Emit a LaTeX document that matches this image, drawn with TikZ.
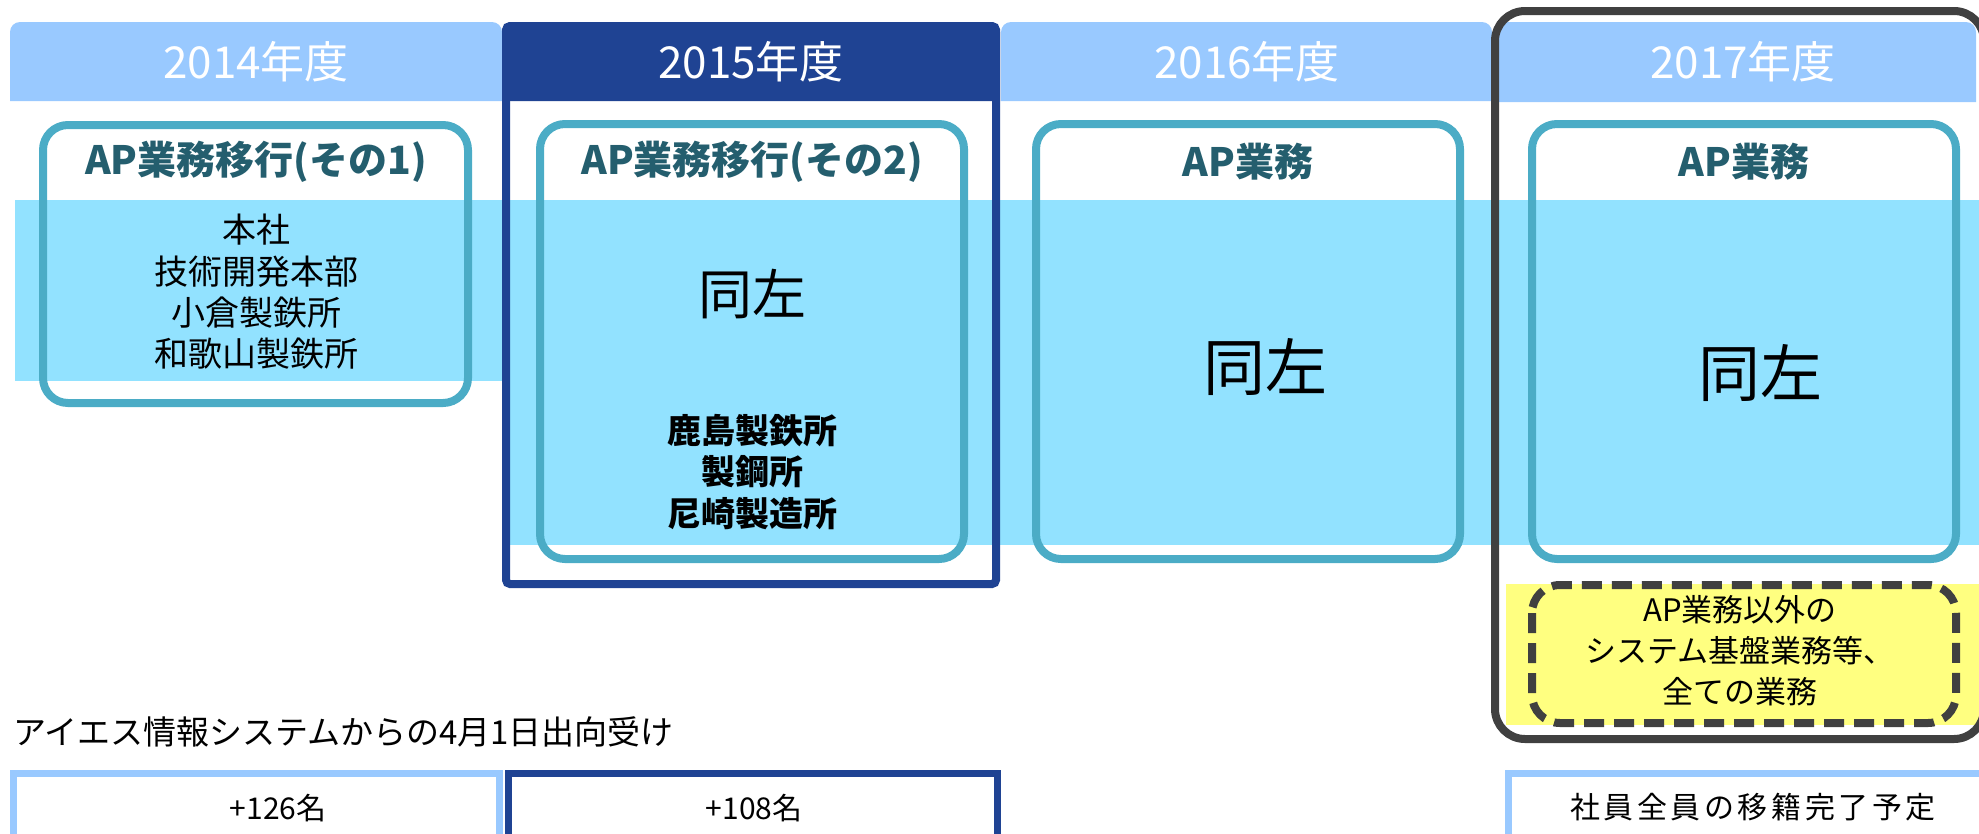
\documentclass[tikz,border=0pt]{standalone}
\usepackage{fontspec}
\setmainfont{Noto Sans CJK JP}
\definecolor{hdrblue}{RGB}{153,201,255}
\definecolor{navyc}{RGB}{31,67,147}
\definecolor{bandc}{RGB}{146,226,255}
\definecolor{tealc}{RGB}{75,172,198}
\definecolor{titlec}{RGB}{36,94,110}
\definecolor{grayc}{RGB}{64,64,64}
\definecolor{yelc}{RGB}{255,255,128}
\begin{document}
\begin{tikzpicture}[x=1pt,y=-1pt,
  yeartxt/.style={text=white,inner sep=0,font=\fontsize{44}{44}\selectfont},
  titletxt/.style={text=titlec,inner sep=0,font=\bfseries\fontsize{39}{39}\selectfont},
  bodytxt/.style={align=center,inner sep=0,font=\fontsize{34}{41.3}\selectfont},
  boldbody/.style={align=center,inner sep=0,font=\bfseries\fontsize{34}{41.5}\selectfont},
  sametxt/.style={inner sep=0},
  tealframe/.style={draw=tealc,line width=8,rounded corners=25},
  smalltxt/.style={inner sep=0,font=\fontsize{30}{30}\selectfont}]
\useasboundingbox (0,0) rectangle (1979,833);
% year header bars
\fill[hdrblue] (10,101) -- (10,32) arc[start angle=180,end angle=270,radius=10] -- (492,22) arc[start angle=270,end angle=360,radius=10] -- (502,101) -- cycle;
\fill[navyc] (502,101) -- (502,32) arc[start angle=180,end angle=270,radius=10] -- (990,22) arc[start angle=270,end angle=360,radius=10] -- (1000,101) -- cycle;
\fill[hdrblue] (1001,101) -- (1001,32) arc[start angle=180,end angle=270,radius=10] -- (1482,22) arc[start angle=270,end angle=360,radius=10] -- (1492,101) -- cycle;
\fill[hdrblue] (1497,102) -- (1497,32) arc[start angle=180,end angle=270,radius=10] -- (1966,22) arc[start angle=270,end angle=360,radius=10] -- (1976,102) -- cycle;
% band
\fill[bandc] (15,200) rectangle (502,381);
\fill[bandc] (502,200) rectangle (1979,545);
% 2015 frame
\draw[navyc,line width=8,rounded corners=4] (506,26) rectangle (996,584);
% yellow area 2017
\fill[yelc] (1506,584) rectangle (1979,725);
% teal frames
\draw[tealframe] (43,125) rectangle (468,403);
\draw[tealframe] (540,124) rectangle (964,559);
\draw[tealframe] (1036,124) rectangle (1460,559);
\draw[tealframe] (1532,124) rectangle (1956,559);
% 2017 frame
\draw[grayc,line width=8,rounded corners=30] (1495,11) rectangle (1984,739);
% dashed box
\draw[grayc,line width=8,rounded corners=28,dash pattern=on 20 off 10] (1532,585) rectangle (1956,723);
% bottom boxes
\draw[hdrblue,line width=7] (13,773) rectangle (499,845);
\draw[navyc,line width=7] (508,773) rectangle (997,845);
\draw[hdrblue,line width=7] (1508,773) rectangle (1985,845);
% texts
\node[yeartxt] (y14) at (256,62) {2014年度};
\node[yeartxt] (y15) at (751,62) {2015年度};
\node[yeartxt] (y16) at (1247,62) {2016年度};
\node[yeartxt] (y17) at (1743,62) {2017年度};
\node[titletxt] (t14) at (256,162) {AP業務移行(その1)};
\node[titletxt] (t15) at (752,162) {AP業務移行(その2)};
\node[titletxt] (t16) at (1248,162) {AP業務};
\node[titletxt] (t17) at (1744,162) {AP業務};
\node[bodytxt] (b14) at (256,292) {本社\\技術開発本部\\小倉製鉄所\\和歌山製鉄所};
\node[boldbody] (b15) at (752,472) {鹿島製鉄所\\製鋼所\\尼崎製造所};
\node[sametxt,font=\fontsize{54}{54}\selectfont] (s15) at (752,294) {同左};
\node[sametxt,font=\fontsize{62}{62}\selectfont] (s16) at (1265,367) {同左};
\node[sametxt,font=\fontsize{62}{62}\selectfont] (s17) at (1760,373) {同左};
\node[align=center,inner sep=0,font=\fontsize{31}{41}\selectfont] (yt) at (1740,651) {AP業務以外の\\システム基盤業務等、\\全ての業務};
\node[anchor=west,inner sep=0,font=\fontsize{33}{33}\selectfont] (lead) at (13,732) {アイエス情報システムからの4月1日出向受け};
\node[smalltxt] (n14) at (278,808) {+126名};
\node[smalltxt] (n15) at (754,808) {+108名};
\node[inner sep=0,font=\fontsize{30}{30}\selectfont\addfontfeature{LetterSpace=12}] (fin) at (1753,807) {社員全員の移籍完了予定};
\end{tikzpicture}
\end{document}
